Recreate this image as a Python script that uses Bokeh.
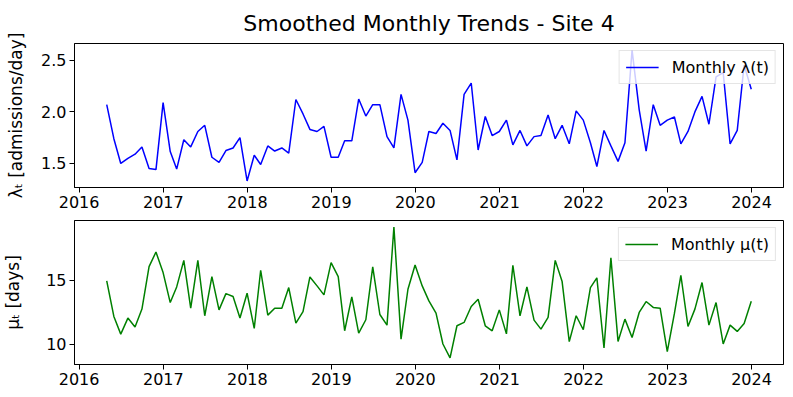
import pandas as pd
from bokeh.plotting import figure
from bokeh.layouts import column
from bokeh.models import (Range1d, FixedTicker, DatetimeTickFormatter, Legend, LegendItem,
                          NumeralTickFormatter)
from bokeh.embed import file_html
from bokeh.resources import INLINE

# ---- data ----
start_month = "2016-04-30"
n_months = 93
lam = [2.07, 1.74, 1.50, 1.55, 1.59, 1.66, 1.45, 1.44, 2.09, 1.615, 1.445, 1.73, 1.66, 1.81, 1.87, 1.56,
       1.51, 1.625, 1.65, 1.75, 1.33, 1.58, 1.49, 1.67, 1.62, 1.65, 1.60, 2.12, 1.98, 1.83, 1.81,
       1.86, 1.56, 1.56, 1.72, 1.72, 2.125, 1.96, 2.07, 2.07, 1.76, 1.65, 2.17, 1.92, 1.41, 1.51, 1.81,
       1.79, 1.89, 1.82, 1.535, 2.17, 2.28, 1.63, 1.955, 1.77, 1.81, 1.92, 1.68, 1.82, 1.67, 1.76, 1.77,
       1.97, 1.74, 1.87, 1.69, 2.01, 1.92, 1.70, 1.47, 1.82, 1.67, 1.52, 1.70, 2.60, 2.02, 1.62, 2.07,
       1.87, 1.92, 1.95, 1.69, 1.81, 2.00, 2.15, 1.88, 2.34, 2.38, 1.69, 1.82, 2.455, 2.22]
mu = [14.95, 12.18, 10.80, 12.05, 11.35, 12.75, 16.06, 17.20, 15.60, 13.26, 14.48, 16.55, 12.82, 16.55,
      12.23, 15.28, 12.69, 13.96, 13.73, 12.05, 13.99, 11.24, 15.78, 12.28, 12.82, 12.82, 14.43, 11.66,
      12.56, 15.26, 14.56,
      13.86, 16.37, 15.28, 11.06, 13.70, 10.88, 11.92, 16.04, 12.33, 11.50, 19.15, 10.41, 14.30, 16.19,
      14.56, 13.39, 12.44, 10.03, 8.94, 11.45, 11.71, 12.95, 13.52, 11.45, 11.06, 12.69, 10.82, 16.17,
      12.23, 14.48, 11.89, 11.19,
      12.10, 16.55, 14.90, 10.21, 12.23, 11.14, 14.43, 15.18, 9.72, 16.76, 10.23, 11.97, 10.54, 12.49,
      13.34, 12.88, 12.82, 9.43, 12.41, 15.39, 11.40, 12.75, 14.82, 11.50, 13.26, 10.03, 11.50, 11.01,
      11.63, 13.37]
year_ticks = list(range(2016, 2025))
lam_ticks = [1.5, 2.0, 2.5]
mu_ticks = [10, 15]
title_text = "Smoothed Monthly Trends - Site 4"
lam_label = "λₜ [admissions/day]"
mu_label = "μₜ [days]"
lam_legend = "Monthly λ(t)"
mu_legend = "Monthly μ(t)"

dates = pd.date_range(start_month, periods=n_months, freq="ME")

FONT = "DejaVu Sans"
W = 793


def pad_range(vals, frac=0.05):
    lo, hi = min(vals), max(vals)
    span = hi - lo
    return lo - frac * span, hi + frac * span


xs = dates.astype("int64") // 10**6
x0, x1 = pad_range(list(xs))
tick_ms = [pd.Timestamp(f"{y}-01-01").value // 10**6 for y in year_ticks]


def style(p, yticks, yfmt, ylabel, standoff):
    p.outline_line_color = "black"
    p.outline_line_width = 1
    p.outline_line_alpha = 1
    p.xgrid.visible = False
    p.ygrid.visible = False
    p.xaxis.ticker = FixedTicker(ticks=tick_ms)
    p.xaxis.formatter = DatetimeTickFormatter(years="%Y", months="%Y", days="%Y", hours="%Y",
                                              minutes="%Y", seconds="%Y", milliseconds="%Y",
                                              microseconds="%Y", minsec="%Y", hourmin="%Y")
    p.yaxis.ticker = FixedTicker(ticks=yticks)
    p.yaxis.formatter = NumeralTickFormatter(format=yfmt)
    for ax in (p.xaxis[0], p.yaxis[0]):
        ax.major_label_text_font = FONT
        ax.major_label_text_font_size = "16px"
        ax.major_label_text_color = "black"
        ax.major_tick_out = 5
        ax.major_tick_in = 0
        ax.minor_tick_out = 0
        ax.minor_tick_in = 0
        ax.axis_line_color = "black"
        ax.major_tick_line_color = "black"
        ax.major_label_standoff = 3
    p.yaxis.axis_label = ylabel
    p.yaxis.axis_label_text_font = FONT
    p.yaxis.axis_label_text_font_size = "17px"
    p.yaxis.axis_label_text_font_style = "normal"
    p.yaxis.axis_label_text_color = "black"
    p.yaxis.axis_label_standoff = standoff


def add_legend(p, r, label):
    leg = Legend(items=[LegendItem(label=label, renderers=[r])], location="top_right")
    leg.label_text_font = FONT
    leg.label_text_font_size = "16px"
    leg.label_text_color = "black"
    leg.glyph_width = 33
    leg.label_standoff = 13
    leg.padding = 6
    leg.margin = 7
    leg.border_line_color = "#cccccc"
    leg.border_line_width = 1
    leg.background_fill_alpha = 0.8
    leg.label_height = 16
    p.add_layout(leg)


ly0, ly1 = pad_range(lam)
p1 = figure(width=W, height=213, x_axis_type="datetime", output_backend="svg", toolbar_location=None,
            x_range=Range1d(x0, x1), y_range=Range1d(ly0, ly1),
            min_border_left=67, min_border_right=10, min_border_top=42, min_border_bottom=26)
p1.title.text = title_text
p1.title.align = "center"
p1.title.offset = -27
p1.title.standoff = 16
p1.title.text_font = FONT
p1.title.text_font_size = "22px"
p1.title.text_font_style = "normal"
p1.title.text_color = "black"
r1 = p1.line(x=dates, y=lam, line_color="blue", line_width=1.5)
style(p1, lam_ticks, "0.0", lam_label, 12)
add_legend(p1, r1, lam_legend)

my0, my1 = pad_range(mu)
p2 = figure(width=W, height=184, x_axis_type="datetime", output_backend="svg", toolbar_location=None,
            x_range=Range1d(x0, x1), y_range=Range1d(my0, my1),
            min_border_left=67, min_border_right=10, min_border_top=7, min_border_bottom=33)
r2 = p2.line(x=dates, y=mu, line_color="green", line_width=1.5)
style(p2, mu_ticks, "0", mu_label, 20)
add_legend(p2, r2, mu_legend)

layout = column(p1, p2, spacing=0)
open("out.html", "w").write(file_html(layout, INLINE))
